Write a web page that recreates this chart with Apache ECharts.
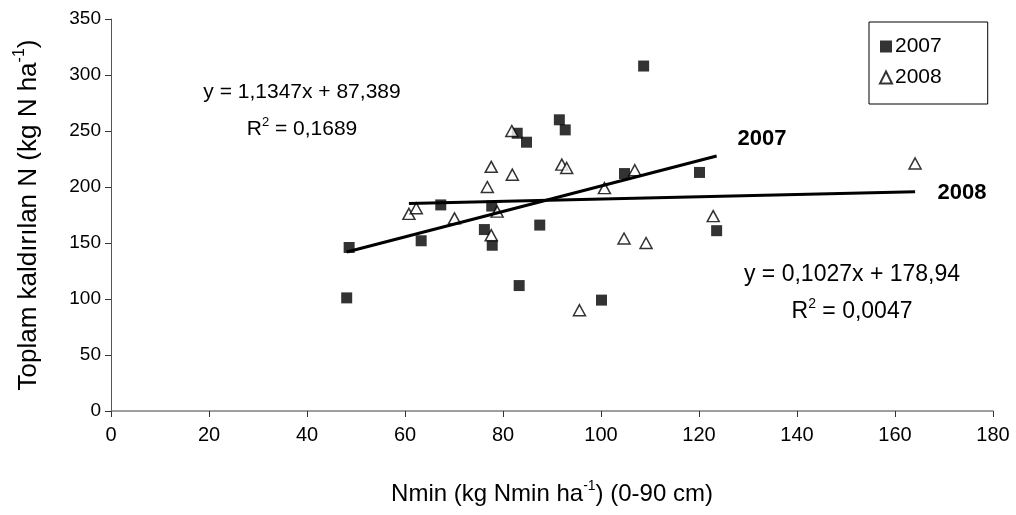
<!DOCTYPE html>
<html>
<head>
<meta charset="utf-8">
<script src="https://cdn.jsdelivr.net/npm/echarts@6/dist/echarts.min.js"></script>
<style>
  html, body { margin: 0; padding: 0; background: #fff; }
  #chart { width: 1016px; height: 515px; }
</style>
</head>
<body>
<div id="chart"></div>
<script>
// Nmin (0-90 cm) vs total N removed, two seasons
const nmin2007   = [48.1, 48.6, 63.3, 67.3, 76.2, 77.7, 77.8, 82.9, 83.3, 84.8, 87.5, 91.5, 92.7, 100.1, 104.8, 108.7, 120.1, 123.6];
const totalN2007 = [101, 146, 152, 184, 162, 183, 148, 248, 112, 240, 166, 260, 251, 99, 212, 308, 213, 161];

const nmin2008   = [60.8, 62.3, 70.1, 76.8, 77.6, 77.6, 78.8, 81.8, 81.9, 92.0, 93.0, 95.6, 100.7, 104.7, 106.9, 109.2, 122.9, 164.1];
const totalN2008 = [176, 181, 172, 200, 218, 157, 178, 250, 211, 220, 217, 90, 199, 154, 215, 150, 174, 221];

// Linear fits (slope, intercept, R²)
const fit2007 = [1.1347, 87.389, 0.1689];
const fit2008 = [0.1027, 178.94, 0.0047];

const seriesNames = ['2007', '2008'];
const xRange = [0, 180, 20];
const yRange = [0, 350, 50];

const FONT = 'Liberation Sans, Arial, sans-serif';
const dec = v => String(v).replace('.', ',');

function pairs(xs, ys) { return xs.map((x, i) => [x, ys[i]]); }
function trend(xs, fit) {
  const lo = Math.min(...xs), hi = Math.max(...xs);
  return [[lo, fit[0] * lo + fit[1]], [hi, fit[0] * hi + fit[1]]];
}

function richSet(size) {
  return {
    t: { fontFamily: FONT, fontSize: size, color: '#000', lineHeight: Math.round(size * 1.25) },
    s: { fontFamily: FONT, fontSize: Math.round(size * 0.6), color: '#000', lineHeight: Math.round(size * 0.75), verticalAlign: 'top' }
  };
}

function eqText(fit) {
  return '{t|y = ' + dec(fit[0]) + 'x + ' + dec(fit[1]) + '}';
}
function r2Text(fit) {
  return '{t|R}{s|2}{t| = ' + dec(fit[2]) + '}';
}
function fitLabel(fit, cx, cy, size) {
  const rich = richSet(size);
  return [
    { type: 'text', x: cx, y: cy, style: { text: eqText(fit), rich, align: 'center', verticalAlign: 'middle' } },
    { type: 'text', x: cx, y: cy + 37, style: { text: r2Text(fit), rich, align: 'center', verticalAlign: 'middle' } }
  ];
}

const chart = echarts.init(document.getElementById('chart'), null, { renderer: 'canvas' });

chart.setOption({
  animation: false,
  backgroundColor: '#fff',
  grid: { left: 111, right: 23, top: 19, bottom: 104, containLabel: false },
  legend: {
    data: seriesNames,
    orient: 'vertical',
    left: 869,
    top: 22,
    padding: [14, 46, 16, 10],
    itemGap: 10,
    itemWidth: 12,
    itemHeight: 12,
    borderColor: '#000',
    borderWidth: 1,
    textStyle: { fontFamily: FONT, fontSize: 21, color: '#000', padding: [0, 0, 0, -2] }
  },
  xAxis: {
    type: 'value',
    min: xRange[0], max: xRange[1], interval: xRange[2],
    name: '{t|Nmin (kg Nmin ha}{s|-1}{t|) (0-90 cm)}',
    nameLocation: 'middle',
    nameGap: 68,
    nameTextStyle: { rich: richSet(24) },
    axisLine: { lineStyle: { color: '#808080', width: 1.5 } },
    axisTick: { show: true, length: 6, lineStyle: { color: '#333', width: 1 } },
    axisLabel: { fontFamily: FONT, fontSize: 20, color: '#000', margin: 14 },
    splitLine: { show: false }
  },
  yAxis: {
    type: 'value',
    min: yRange[0], max: yRange[1], interval: yRange[2],
    name: '{t|Toplam kaldırılan N (kg N ha}{s|-1}{t|)}',
    nameLocation: 'middle',
    nameGap: 66,
    nameRotate: 90,
    nameTextStyle: { rich: richSet(26) },
    axisLine: { show: true, lineStyle: { color: '#555', width: 1 } },
    axisTick: { show: true, length: 6, lineStyle: { color: '#333', width: 1 } },
    axisLabel: { fontFamily: FONT, fontSize: 19, color: '#000', margin: 10 },
    splitLine: { show: false }
  },
  series: [
    {
      name: seriesNames[0],
      type: 'scatter',
      symbol: 'rect',
      symbolSize: 11,
      itemStyle: { color: '#000' },
      data: pairs(nmin2007, totalN2007),
      z: 3
    },
    {
      name: seriesNames[1],
      type: 'scatter',
      symbol: 'triangle',
      symbolSize: [12, 11],
      itemStyle: { color: '#fff', borderColor: '#000', borderWidth: 1.5 },
      data: pairs(nmin2008, totalN2008),
      z: 3
    },
    {
      name: 'trend2007',
      type: 'line',
      data: trend(nmin2007, fit2007),
      showSymbol: false,
      symbol: 'none',
      lineStyle: { color: '#000', width: 3 },
      z: 4,
      silent: true
    },
    {
      name: 'trend2008',
      type: 'line',
      data: trend(nmin2008, fit2008),
      showSymbol: false,
      symbol: 'none',
      lineStyle: { color: '#000', width: 3 },
      z: 4,
      silent: true
    }
  ],
  graphic: [
    ...fitLabel(fit2007, 302, 92, 21),
    ...fitLabel(fit2008, 852, 275, 23),
    { type: 'text', x: 762, y: 139, style: { text: seriesNames[0], fontFamily: FONT, fontSize: 22, fontWeight: 'bold', fill: '#000', align: 'center', verticalAlign: 'middle' } },
    { type: 'text', x: 962, y: 193, style: { text: seriesNames[1], fontFamily: FONT, fontSize: 22, fontWeight: 'bold', fill: '#000', align: 'center', verticalAlign: 'middle' } }
  ]
});
</script>
</body>
</html>
